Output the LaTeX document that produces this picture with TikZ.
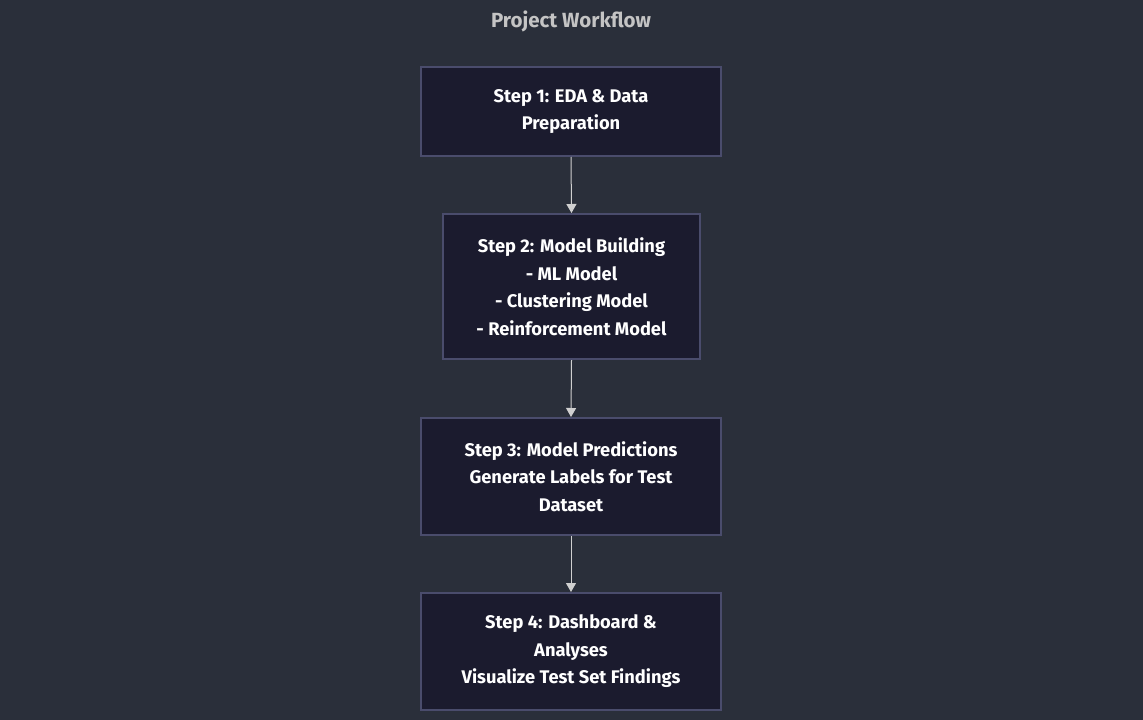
\documentclass[tikz,border=0pt]{standalone}
\usepackage{fontspec}
\setmainfont{Fira Sans}
\usetikzlibrary{arrows.meta}
\definecolor{bg}{HTML}{2A2F3A}
\definecolor{boxfill}{HTML}{1B1B2E}
\definecolor{boxline}{HTML}{4A4C6C}
\definecolor{titlecol}{HTML}{C4C4C4}
\definecolor{arrowcol}{HTML}{D0D0D0}
\tikzset{
  stepbox/.style={draw=boxline, line width=2pt, fill=boxfill, text=white, align=center, inner sep=0pt,
    font=\fontsize{18.3}{27.5}\selectfont\bfseries},
  flow/.style={draw=arrowcol, line width=1pt, -{Triangle[width=10pt,length=9pt]}}
}
\begin{document}
\begin{tikzpicture}[x=1pt,y=-1pt]
\fill[bg] (0,0) rectangle (1143,720);
\useasboundingbox (0,0) rectangle (1143,720);
\node[text=titlecol, font=\fontsize{20.5}{22}\selectfont\bfseries] (title) at (571,21) {Project Workflow};
\node[stepbox, minimum width=300pt, minimum height=89pt] (s1) at (571,111.5) {Step 1: EDA \& Data\\Preparation};
\node[stepbox, minimum width=257pt, minimum height=145pt] (s2) at (571.5,286.5) {Step 2: Model Building\\- ML Model\\- Clustering Model\\- Reinforcement Model};
\node[stepbox, minimum width=300pt, minimum height=117pt] (s3) at (571,476.5) {Step 3: Model Predictions\\Generate Labels for Test\\Dataset};
\node[stepbox, minimum width=300pt, minimum height=117pt] (s4) at (571,651.5) {Step 4: Dashboard \&\\Analyses\\Visualize Test Set Findings};
\draw[flow] (s1.south) -- (s2.north);
\draw[flow] (s2.south) -- (s3.north);
\draw[flow] (s3.south) -- (s4.north);
\end{tikzpicture}
\end{document}
